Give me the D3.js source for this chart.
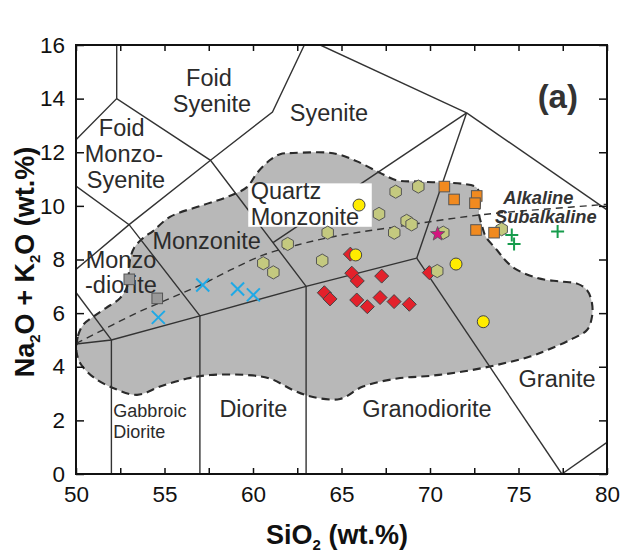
<!DOCTYPE html>
<html>
<head>
<meta charset="utf-8">
<script src="https://cdn.jsdelivr.net/npm/d3@7"></script>
<style>
  body { margin: 0; background: #fff; }
  svg { display: block; font-family: "Liberation Sans", Arial, sans-serif; }
</style>
</head>
<body>
<svg id="chart" width="624" height="553"></svg>
<script>
// ---------- axis ticks ----------
const xTickValues = [50, 52.5, 55, 57.5, 60, 62.5, 65, 67.5, 70, 72.5, 75, 77.5, 80];
const xTickLabels = [50, 55, 60, 65, 70, 75, 80];
const yTickValues = [0, 2, 4, 6, 8, 10, 12, 14, 16];
const yTickLabels = [0, 2, 4, 6, 8, 10, 12, 14, 16];

// ---------- samples (SiO2, Na2O+K2O) ----------
const redDiamonds = [
  [65.5, 8.2], [65.58, 7.49], [65.89, 7.2], [67.27, 7.38], [64.03, 6.76], [64.35, 6.53],
  [65.86, 6.49], [66.46, 6.24], [67.18, 6.58], [67.97, 6.43], [68.83, 6.33], [69.96, 7.51]
];
const hexagons = [
  [68.06, 10.53], [69.34, 10.72], [67.12, 9.7], [68.68, 9.44], [68.96, 9.31], [67.98, 9.0],
  [64.22, 9.0], [61.96, 8.58], [63.91, 7.96], [60.58, 7.86], [61.15, 7.52], [70.75, 9.0],
  [74.05, 9.13], [70.41, 7.57]
];
const yellowCircles = [[65.99, 10.03], [65.8, 8.17], [71.47, 7.83], [73.01, 5.68]];
const orangeSquares = [[70.81, 10.72], [71.36, 10.24], [72.64, 10.37], [72.54, 10.1], [72.6, 9.1], [73.62, 9.0]];
const graySquares = [[53.01, 7.26], [54.59, 6.55]];
const blueCrosses = [[54.65, 5.84], [57.16, 7.05], [59.13, 6.9], [60.02, 6.68]];
const greenPlus = [[74.62, 8.91], [74.75, 8.58], [77.21, 9.04]];
const stars = [[70.43, 8.95]];

// ---------- classification field boundaries (plutonic TAS) ----------
const fieldBoundaries = [
  [[52, 0], [52, 5]],
  [[57, 0], [57, 5.9]],
  [[63, 0], [63, 7]],
  [[50, 4.85], [52, 5], [57, 5.9], [63, 7], [69.25, 8.05]],
  [[69.25, 8.05], [77.45, 0]],
  [[77.45, 0], [80, 1.18]],
  [[69.25, 8.05], [72.07, 13.47]],
  [[72.07, 13.47], [80, 9.85]],
  [[72.07, 13.47], [63.8, 16]],
  [[61.13, 8.63], [72.07, 13.47]],
  [[52.3, 16], [52.3, 14]],
  [[50, 12.47], [52.3, 14], [57.6, 11.7], [63, 7]],
  [[57.6, 11.7], [61.1, 13.5], [62.9, 16]],
  [[50, 10.74], [53, 9.3], [57, 5.9]],
  [[50, 7.63], [53, 9.3], [57.6, 11.7]],
  [[50, 6.77], [52, 5]]
];

// alkaline / subalkaline divide
const alkalineDivide = [
  [50, 4.87], [51.5, 5.37], [53.4, 6.0], [55.3, 6.55], [57.2, 7.1], [58.7, 7.6], [60.6, 8.17],
  [62.5, 8.54], [64.35, 8.83], [66.2, 9.04], [68.1, 9.22], [70, 9.41], [72.8, 9.66],
  [77.9, 9.95], [80, 10.06]
];

// shaded compositional field
const shadedField = [
  [50.03, 4.70], [50.11, 5.15], [50.40, 5.56], [50.96, 5.86], [51.69, 6.19], [52.49, 6.56],
  [52.88, 6.97], [52.99, 7.53], [53.05, 7.98], [53.28, 8.43], [53.79, 8.80], [54.35, 9.06],
  [55.31, 9.59], [57.18, 10.03], [58.53, 10.33], [59.66, 10.70], [60.23, 11.23], [60.96, 11.71],
  [61.53, 11.93], [62.26, 11.97], [64.18, 11.99], [64.92, 11.90], [65.88, 11.66], [67.18, 11.23],
  [68.14, 10.95], [69.27, 10.91], [70.56, 10.87], [71.86, 10.82], [72.60, 10.70], [72.82, 10.44],
  [72.82, 10.07], [72.77, 9.70], [72.94, 9.25], [73.16, 8.84], [73.79, 8.35], [74.24, 7.98],
  [74.80, 7.66], [76.05, 7.31], [77.34, 7.18], [78.31, 7.10], [78.87, 6.86], [79.15, 6.38],
  [79.15, 5.86], [78.87, 5.37], [77.91, 5.00], [76.61, 4.62], [75.65, 4.38], [73.79, 4.07],
  [71.86, 3.82], [70.00, 3.66], [68.14, 3.56], [66.21, 3.26], [64.92, 2.80], [63.39, 2.87],
  [62.26, 3.13], [60.96, 3.56], [59.66, 3.69], [57.57, 3.69], [56.27, 3.56], [54.75, 3.26],
  [53.45, 2.95], [52.09, 3.21], [50.96, 3.62], [50.23, 4.14], [50.03, 4.55]
];

// field names: [text, SiO2, alkalis, anchor, size class]
const fieldLabels = [
  ["Foid", 57.51, 14.47, "middle", "big"],
  ["Syenite", 57.68, 13.5, "middle", "big"],
  ["Syenite", 64.29, 13.17, "middle", "big"],
  ["Foid", 52.58, 12.61, "middle", "big"],
  ["Monzo-", 52.71, 11.64, "middle", "big"],
  ["Syenite", 52.82, 10.67, "middle", "big"],
  ["Quartz", 59.87, 10.25, "start", "big"],
  ["Monzonite", 59.87, 9.29, "start", "big"],
  ["Monzonite", 57.38, 8.39, "middle", "big"],
  ["Monzo", 52.54, 7.67, "middle", "big"],
  ["-diorite", 52.54, 6.74, "middle", "big"],
  ["Gabbroic", 52.11, 2.14, "start", "small"],
  ["Diorite", 52.11, 1.33, "start", "small"],
  ["Diorite", 60.02, 2.14, "middle", "big"],
  ["Granodiorite", 69.83, 2.14, "middle", "big"],
  ["Granite", 77.18, 3.26, "middle", "big"]
];
const seriesLabels = [["Alkaline", 74.14, 10.06], ["Subalkaline", 73.67, 9.35]];
const quartzMonzoniteBox = [[59.73, 10.84], [66.71, 9.22]];

// ---------- layout ----------
const svg = d3.select("#chart");
const x = d3.scaleLinear().domain([50, 80]).range([76, 607]);
const y = d3.scaleLinear().domain([0, 16]).range([474, 45]);
const ink = "#333";

svg.append("defs").append("clipPath").attr("id", "plotClip")
  .append("rect").attr("x", x(50)).attr("y", y(16))
  .attr("width", x(80) - x(50)).attr("height", y(0) - y(16));

const plot = svg.append("g").attr("clip-path", "url(#plotClip)");
const line = d3.line().x(d => x(d[0])).y(d => y(d[1]));

// shaded field
plot.append("path")
  .attr("d", d3.line().x(d => x(d[0])).y(d => y(d[1])).curve(d3.curveCatmullRomClosed)(shadedField))
  .attr("fill", "#b8b8b8")
  .attr("stroke", "#2a2a2a").attr("stroke-width", 2.1).attr("stroke-dasharray", "8,5");

// field boundaries
plot.selectAll("path.boundary").data(fieldBoundaries).join("path")
  .attr("class", "boundary")
  .attr("d", d => line(d))
  .attr("fill", "none").attr("stroke", ink).attr("stroke-width", 1.4);

// alkaline / subalkaline divide
plot.append("path")
  .attr("d", d3.line().x(d => x(d[0])).y(d => y(d[1])).curve(d3.curveMonotoneX)(alkalineDivide))
  .attr("fill", "none").attr("stroke", ink).attr("stroke-width", 1.4)
  .attr("stroke-dasharray", "7,5");

// white panel behind the Quartz Monzonite name
plot.append("rect")
  .attr("x", x(quartzMonzoniteBox[0][0]))
  .attr("y", y(quartzMonzoniteBox[0][1]))
  .attr("width", x(quartzMonzoniteBox[1][0]) - x(quartzMonzoniteBox[0][0]))
  .attr("height", y(quartzMonzoniteBox[1][1]) - y(quartzMonzoniteBox[0][1]))
  .attr("fill", "#fff");

// field names
svg.append("g").selectAll("text").data(fieldLabels).join("text")
  .attr("x", d => x(d[1])).attr("y", d => y(d[2]))
  .attr("text-anchor", d => d[3])
  .attr("font-size", d => d[4] === "big" ? 23.5 : 18)
  .attr("fill", "#2b2b2b")
  .text(d => d[0]);

svg.append("g").selectAll("text").data(seriesLabels).join("text")
  .attr("x", d => x(d[1])).attr("y", d => y(d[2]))
  .attr("font-size", 18.3).attr("font-weight", "bold").attr("font-style", "italic")
  .attr("fill", ink)
  .text(d => d[0]);

svg.append("text")
  .attr("x", x(78.36)).attr("y", y(13.64))
  .attr("text-anchor", "end").attr("font-size", 33).attr("font-weight", "bold")
  .attr("fill", ink).text("(a)");

// ---------- markers ----------
const marks = svg.append("g");
const hexPath = r => {
  const pts = d3.range(6).map(i => {
    const a = (Math.PI / 3) * i - Math.PI / 2;
    return [r * Math.cos(a), r * Math.sin(a)];
  });
  return "M" + pts.map(p => p.join(",")).join("L") + "Z";
};
const starPath = (ro, ri) => {
  const pts = d3.range(10).map(i => {
    const r = i % 2 ? ri : ro;
    const a = (Math.PI / 5) * i - Math.PI / 2;
    return [r * Math.cos(a), r * Math.sin(a)];
  });
  return "M" + pts.map(p => p.join(",")).join("L") + "Z";
};
const place = d => `translate(${x(d[0])},${y(d[1])})`;

marks.selectAll("path.dia").data(redDiamonds).join("path")
  .attr("class", "dia").attr("transform", place)
  .attr("d", "M0,-7L7,0L0,7L-7,0Z")
  .attr("fill", "#e3212b").attr("stroke", "#444").attr("stroke-width", 1);

marks.selectAll("path.hex").data(hexagons).join("path")
  .attr("class", "hex").attr("transform", place)
  .attr("d", hexPath(6.6))
  .attr("fill", "#c4c97f").attr("stroke", "#555").attr("stroke-width", 1);

marks.selectAll("circle.yel").data(yellowCircles).join("circle")
  .attr("class", "yel").attr("cx", d => x(d[0])).attr("cy", d => y(d[1])).attr("r", 6)
  .attr("fill", "#ffec00").attr("stroke", "#444").attr("stroke-width", 1);

marks.selectAll("rect.org").data(orangeSquares).join("rect")
  .attr("class", "org").attr("transform", place)
  .attr("x", -5.3).attr("y", -5.3).attr("width", 10.6).attr("height", 10.6)
  .attr("fill", "#f18a1f").attr("stroke", "#555").attr("stroke-width", 1);

marks.selectAll("rect.gry").data(graySquares).join("rect")
  .attr("class", "gry").attr("transform", place)
  .attr("x", -5.3).attr("y", -5.3).attr("width", 10.6).attr("height", 10.6)
  .attr("fill", "#999").attr("stroke", "#555").attr("stroke-width", 1);

marks.selectAll("path.crs").data(blueCrosses).join("path")
  .attr("class", "crs").attr("transform", place)
  .attr("d", "M-6.5,-6.5L6.5,6.5M-6.5,6.5L6.5,-6.5")
  .attr("stroke", "#1fa9e6").attr("stroke-width", 2).attr("fill", "none");

marks.selectAll("path.pls").data(greenPlus).join("path")
  .attr("class", "pls").attr("transform", place)
  .attr("d", "M-6.5,0L6.5,0M0,-6.5L0,6.5")
  .attr("stroke", "#169c4c").attr("stroke-width", 2).attr("fill", "none");

marks.selectAll("path.star").data(stars).join("path")
  .attr("class", "star").attr("transform", place)
  .attr("d", starPath(7.5, 3.2))
  .attr("fill", "#d3157f").attr("stroke", "#555").attr("stroke-width", 0.8);

// ---------- axes ----------
const fmtX = d => xTickLabels.includes(d) ? d : "";
const fmtY = d => yTickLabels.includes(d) ? d : "";

const gx = svg.append("g").attr("transform", `translate(0,${y(0)})`)
  .call(d3.axisBottom(x).tickValues(xTickValues).tickFormat(fmtX).tickSize(-6).tickPadding(12));
const gxt = svg.append("g").attr("transform", `translate(0,${y(16)})`)
  .call(d3.axisTop(x).tickValues(xTickValues).tickFormat("").tickSize(-6));
const gy = svg.append("g").attr("transform", `translate(${x(50)},0)`)
  .call(d3.axisLeft(y).tickValues(yTickValues).tickFormat(fmtY).tickSize(-8).tickPadding(11));
const gyr = svg.append("g").attr("transform", `translate(${x(80)},0)`)
  .call(d3.axisRight(y).tickValues(yTickValues).tickFormat("").tickSize(-8));

[gx, gxt, gy, gyr].forEach(g => {
  g.select(".domain").remove();
  g.selectAll(".tick line").attr("stroke", "#111").attr("stroke-width", 1.5);
  g.selectAll(".tick text").attr("font-size", 22.5).attr("fill", "#111")
    .attr("font-family", "'Liberation Sans', Arial, sans-serif");
});

svg.append("rect")
  .attr("x", x(50)).attr("y", y(16))
  .attr("width", x(80) - x(50)).attr("height", y(0) - y(16))
  .attr("fill", "none").attr("stroke", "#111").attr("stroke-width", 2);

// axis titles
const xt = svg.append("text").attr("x", 337).attr("y", 544)
  .attr("text-anchor", "middle").attr("font-size", 27).attr("font-weight", "bold").attr("fill", "#111");
xt.append("tspan").text("SiO");
xt.append("tspan").attr("font-size", 15).attr("dy", 6).text("2");
xt.append("tspan").attr("dy", -6).text(" (wt.%)");

const yt = svg.append("text").attr("transform", "translate(34,262) rotate(-90)")
  .attr("text-anchor", "middle").attr("font-size", 27).attr("font-weight", "bold").attr("fill", "#111");
yt.append("tspan").text("Na");
yt.append("tspan").attr("font-size", 15).attr("dy", 6).text("2");
yt.append("tspan").attr("dy", -6).text("O + K");
yt.append("tspan").attr("font-size", 15).attr("dy", 6).text("2");
yt.append("tspan").attr("dy", -6).text("O (wt.%)");
</script>
</body>
</html>
